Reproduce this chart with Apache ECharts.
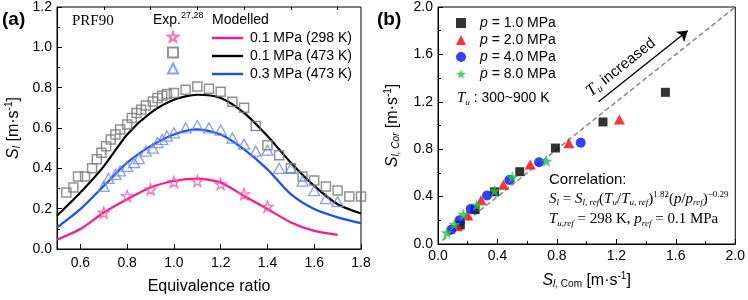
<!DOCTYPE html>
<html><head><meta charset="utf-8">
<script src="https://cdn.jsdelivr.net/npm/echarts@6/dist/echarts.min.js"></script>
<style>html,body{margin:0;padding:0;background:#fff}#c{width:748px;height:300px}</style>
</head><body><div id="c"></div>
<script>
// ---- Panel (a) data ----
const sqPhi = [0.54,0.57,0.59,0.62,0.65,0.67,0.69,0.71,0.73,0.75,0.77,0.80,0.82,0.84,0.86,0.88,0.91,0.93,0.95,0.97,1.00,1.05,1.10,1.15,1.20,1.25,1.30,1.35,1.40,1.45,1.50,1.55,1.60,1.65,1.70,1.75,1.80];
const sqVal = [0.28,0.305,0.36,0.36,0.40,0.445,0.477,0.51,0.543,0.568,0.593,0.617,0.65,0.675,0.69,0.711,0.732,0.749,0.76,0.769,0.774,0.79,0.806,0.795,0.78,0.73,0.70,0.61,0.515,0.465,0.40,0.36,0.34,0.31,0.29,0.26,0.26];
const triPhi = [0.70,0.72,0.75,0.77,0.80,0.83,0.85,0.88,0.91,0.93,0.95,0.97,1.00,1.05,1.10,1.15,1.20,1.25,1.30,1.35,1.40,1.45,1.50,1.55,1.60,1.65,1.70];
const triVal = [0.31,0.35,0.37,0.387,0.41,0.428,0.448,0.485,0.50,0.527,0.543,0.56,0.576,0.60,0.612,0.60,0.59,0.55,0.52,0.485,0.49,0.40,0.40,0.337,0.29,0.25,0.235];
const starPhi = [0.7,0.8,0.9,1.0,1.1,1.2,1.3,1.4];
const starVal = [0.18,0.263,0.296,0.333,0.337,0.322,0.272,0.21];
const modPhi = [0.5,0.6,0.7,0.8,0.9,1.0,1.1,1.2,1.3,1.4,1.5,1.6,1.7,1.8];
const modBlack = [0.165,0.28,0.41,0.568,0.675,0.74,0.765,0.749,0.675,0.56,0.428,0.313,0.222,0.176];
const modBlue = [0.107,0.198,0.313,0.428,0.51,0.568,0.593,0.568,0.494,0.395,0.272,0.198,0.157,0.128];
const modPink = [0.046,0.099,0.181,0.247,0.305,0.337,0.349,0.329,0.263,0.198,0.132,0.09,0.07];
const xTicksA = [0.6,0.8,1.0,1.2,1.4,1.6,1.8];
const xMinorA = [0.5,0.7,0.9,1.1,1.3,1.5,1.7];

// ---- Panel (b) data ----
const p1x = [0.15,0.25,0.38,0.55,0.79,1.11,1.53];
const p1y = [0.16,0.29,0.44,0.61,0.81,1.03,1.28];
const p2x = [0.13,0.20,0.29,0.44,0.62,0.88,1.22];
const p2y = [0.15,0.24,0.37,0.50,0.67,0.85,1.05];
const p4x = [0.09,0.145,0.22,0.33,0.48,0.68,0.96];
const p4y = [0.12,0.20,0.295,0.41,0.54,0.69,0.855];
const p8x = [0.06,0.11,0.17,0.26,0.38,0.50,0.73];
const p8y = [0.095,0.165,0.25,0.33,0.45,0.565,0.70];
const diag = [0.03, 2.0];
const arrowFrom = [1.08, 1.20];
const arrowTo = [1.68, 1.80];

const zip = (a, b) => a.map((v, i) => [v, b[i]]);
const STAR = 'path://M0,-10 L2.35,-3.24 L9.51,-3.09 L3.8,1.24 L5.88,8.09 L0,4 L-5.88,8.09 L-3.8,1.24 L-9.51,-3.09 L-2.35,-3.24 Z';
const SANS = 'Liberation Sans, Arial, sans-serif';
const SERIF = 'Liberation Serif, Times New Roman, serif';

const sub = {fontSize: 10, padding: [8, 0, 0, 0]};
const sup = {fontSize: 10, padding: [0, 0, 9, 0]};

function valAxis(extra) {
  return Object.assign({
    type: 'value',
    axisLine: {show: true, lineStyle: {color: '#000', width: 1}},
    axisTick: {show: true, inside: true, length: 5, lineStyle: {color: '#000'}},
    minorTick: {show: true, splitNumber: 2, length: 3, lineStyle: {color: '#000'}},
    splitLine: {show: false},
    axisLabel: {color: '#000', fontSize: 14, fontFamily: SANS, margin: 5, formatter: v => v.toFixed(1)},
    nameTextStyle: {color: '#000', fontFamily: SANS, fontSize: 16}
  }, extra);
}

const chart = echarts.init(document.getElementById('c'), null, {renderer: 'canvas'});
chart.setOption({
  animation: false,
  backgroundColor: '#fff',
  grid: [
    {left: 57, right: 387, top: 7, bottom: 50, show: true, borderColor: '#000', borderWidth: 1},
    {left: 438, right: 11, top: 7, bottom: 56, show: true, borderColor: '#000', borderWidth: 1}
  ],
  xAxis: [
    valAxis({gridIndex: 0, min: 0.5, max: 1.8, interval: 0.1,
      minorTick: {show: false},
      axisTick: {show: true, inside: true, length: 5, customValues: xTicksA, lineStyle: {color: '#000'}},
      axisLabel: {color: '#000', fontSize: 14, fontFamily: SANS, margin: 7, customValues: xTicksA, formatter: v => v.toFixed(1)},
      name: 'Equivalence ratio', nameLocation: 'middle', nameGap: 30}),
    valAxis({gridIndex: 0, min: 0.5, max: 1.8, interval: 0.1,
      minorTick: {show: false},
      axisLine: {show: false},
      axisTick: {show: true, inside: true, length: 3, customValues: xMinorA, lineStyle: {color: '#000'}},
      axisLabel: {show: false}}),
    valAxis({gridIndex: 1, min: 0, max: 2.0, interval: 0.4,
      name: '{i|S}{sbi|l, }{sb|Com} [m·s{sp|-1}]', nameLocation: 'middle', nameGap: 27,
      nameTextStyle: {color: '#000', fontFamily: SANS, fontSize: 16,
        rich: {i: {fontStyle: 'italic', fontSize: 16}, sbi: Object.assign({fontStyle: 'italic'}, sub), sb: sub, sp: sup}}})
  ],
  yAxis: [
    valAxis({gridIndex: 0, min: 0, max: 1.2, interval: 0.2,
      name: '{i|S}{sbi|l} [m·s{sp|-1}]', nameLocation: 'middle', nameGap: 34,
      nameTextStyle: {color: '#000', fontFamily: SANS, fontSize: 16,
        rich: {i: {fontStyle: 'italic', fontSize: 16}, sbi: Object.assign({fontStyle: 'italic'}, sub), sp: sup}}}),
    valAxis({gridIndex: 1, min: 0, max: 2.0, interval: 0.4,
      name: '{i|S}{sbi|l, Cor} [m·s{sp|-1}]', nameLocation: 'middle', nameGap: 36,
      nameTextStyle: {color: '#000', fontFamily: SANS, fontSize: 16,
        rich: {i: {fontStyle: 'italic', fontSize: 16}, sbi: Object.assign({fontStyle: 'italic'}, sub), sp: sup}}})
  ],
  legend: [
    {left: 167, top: 31, padding: 0, orient: 'vertical', itemWidth: 10, itemHeight: 10, itemGap: 4,
      data: ['e298', 'e473', 'e473b'], formatter: () => '', textStyle: {lineHeight: 12, padding: 0}, selectedMode: false},
    {left: 212, top: 31, padding: 0, orient: 'vertical', itemWidth: 31, itemHeight: 2.4, itemGap: 4, icon: 'rect',
      data: ['0.1 MPa (298 K)', '0.1 MPa (473 K)', '0.3 MPa (473 K)'],
      textStyle: {color: '#000', fontSize: 14, fontFamily: SANS, lineHeight: 12, padding: [0, 0, 0, 2]}, selectedMode: false},
    {left: 456, top: 16, padding: 0, orient: 'vertical', itemWidth: 10, itemHeight: 10, itemGap: 3,
      data: ['p = 1.0 MPa', 'p = 2.0 MPa', 'p = 4.0 MPa', 'p = 8.0 MPa'],
      formatter: n => '{i|p}' + n.slice(1),
      textStyle: {color: '#000', fontSize: 14, fontFamily: SANS, lineHeight: 14, padding: [0, 0, 0, 9],
        rich: {i: {fontStyle: 'italic', fontSize: 14, fontFamily: SANS}}}, selectedMode: false}
  ],
  series: [
    {name: '0.1 MPa (298 K)', type: 'line', xAxisIndex: 0, yAxisIndex: 0, data: zip(modPhi, modPink),
      showSymbol: false, symbol: 'none', smooth: 0.25, lineStyle: {color: '#ff1a85', width: 2.2}, itemStyle: {color: '#ff1a85'}, z: 2},
    {name: '0.1 MPa (473 K)', type: 'line', xAxisIndex: 0, yAxisIndex: 0, data: zip(modPhi, modBlack),
      showSymbol: false, symbol: 'none', smooth: 0.25, lineStyle: {color: '#000', width: 2.2}, itemStyle: {color: '#000'}, z: 2},
    {name: '0.3 MPa (473 K)', type: 'line', xAxisIndex: 0, yAxisIndex: 0, data: zip(modPhi, modBlue),
      showSymbol: false, symbol: 'none', smooth: 0.25, lineStyle: {color: '#1f4ff2', width: 2.2}, itemStyle: {color: '#1f4ff2'}, z: 2},
    {name: 'e298', type: 'scatter', xAxisIndex: 0, yAxisIndex: 0, data: zip(starPhi, starVal),
      symbol: STAR, symbolSize: 11, itemStyle: {color: 'rgba(0,0,0,0)', borderColor: '#ff4da0', borderWidth: 1.3}, z: 3},
    {name: 'e473', type: 'scatter', xAxisIndex: 0, yAxisIndex: 0, data: zip(sqPhi, sqVal),
      symbol: 'rect', symbolSize: 9, itemStyle: {color: 'rgba(0,0,0,0)', borderColor: '#777', borderWidth: 1.5}, z: 3},
    {name: 'e473b', type: 'scatter', xAxisIndex: 0, yAxisIndex: 0, data: zip(triPhi, triVal),
      symbol: 'triangle', symbolSize: [11, 10], itemStyle: {color: 'rgba(0,0,0,0)', borderColor: '#6688f0', borderWidth: 1.3}, z: 3},
    {name: 'diag', type: 'line', xAxisIndex: 2, yAxisIndex: 1, data: zip(diag, diag), showSymbol: false, symbol: 'none',
      lineStyle: {color: '#888', width: 1.5, type: [5, 3]}, silent: true, z: 1,
      markLine: {silent: true, symbol: ['none', 'arrow'], symbolSize: 10,
        lineStyle: {color: '#000', width: 1.4, type: 'solid'},
        label: {show: true, position: 'insideMiddleTop', distance: 4, color: '#000', fontFamily: SANS, fontSize: 15,
          padding: [0, 36, 0, 0],
          formatter: '{t|T}{u|u} increased',
          rich: {t: {fontFamily: SERIF, fontStyle: 'italic', fontSize: 17}, u: {fontFamily: SERIF, fontStyle: 'italic', fontSize: 10, padding: [8, 0, 0, 0]}}},
        data: [[{coord: arrowFrom}, {coord: arrowTo}]]}},
    {name: 'p = 1.0 MPa', type: 'scatter', xAxisIndex: 2, yAxisIndex: 1, data: zip(p1x, p1y),
      symbol: 'rect', symbolSize: 9, itemStyle: {color: '#000'}, z: 3},
    {name: 'p = 2.0 MPa', type: 'scatter', xAxisIndex: 2, yAxisIndex: 1, data: zip(p2x, p2y),
      symbol: 'triangle', symbolSize: [11, 10], itemStyle: {color: '#ff0000'}, z: 3},
    {name: 'p = 4.0 MPa', type: 'scatter', xAxisIndex: 2, yAxisIndex: 1, data: zip(p4x, p4y),
      symbol: 'circle', symbolSize: 10, itemStyle: {color: '#0010ff'}, z: 3},
    {name: 'p = 8.0 MPa', type: 'scatter', xAxisIndex: 2, yAxisIndex: 1, data: zip(p8x, p8y),
      symbol: STAR, symbolSize: 12, itemStyle: {color: '#22c33a'}, z: 4}
  ],
  graphic: [
    {type: 'text', left: 2, top: 10, style: {text: '(a)', font: 'bold 19px ' + SANS, fill: '#000'}},
    {type: 'text', left: 377, top: 10, style: {text: '(b)', font: 'bold 19px ' + SANS, fill: '#000'}},
    {type: 'text', left: 72, top: 14, style: {text: 'PRF90', font: '15px ' + SERIF, fill: '#000'}},
    {type: 'text', left: 153, top: 11, style: {text: 'Exp.{s|27,28}', font: '14px ' + SANS, fill: '#000',
      rich: {s: {fontSize: 9, fontFamily: SANS, padding: [0, 0, 9, 0]}}}},
    {type: 'text', left: 212, top: 13, style: {text: 'Modelled', font: '14px ' + SANS, fill: '#000'}},
    {type: 'text', left: 457, top: 91, style: {text: '{t|T}{u|u} : 300~900 K', font: '14px ' + SANS, fill: '#000',
      rich: {t: {fontFamily: SERIF, fontStyle: 'italic', fontSize: 15}, u: {fontFamily: SERIF, fontStyle: 'italic', fontSize: 9, padding: [8, 0, 0, 0]}}}},
    {type: 'text', left: 549, top: 172, style: {text: 'Correlation:', font: '15px ' + SANS, fill: '#000'}},
    {type: 'text', left: 549, top: 190, style: {
      text: '{i|S}{b|l} = {i|S}{b|l, ref}({i|T}{b|u}/{i|T}{b|u, ref}){p|1.82}({i|p}/{i|p}{b|ref}){p|\u22120.29}',
      font: '15px ' + SERIF, fill: '#000',
      rich: {i: {fontStyle: 'italic', fontFamily: SERIF, fontSize: 15}, b: {fontStyle: 'italic', fontFamily: SERIF, fontSize: 9, padding: [8, 0, 0, 0]},
        p: {fontFamily: SERIF, fontSize: 9, padding: [0, 0, 9, 0]}}}},
    {type: 'text', left: 549, top: 212, style: {
      text: '{i|T}{b|u,ref} = 298 K, {i|p}{b|ref} = 0.1 MPa',
      font: '15px ' + SERIF, fill: '#000',
      rich: {i: {fontStyle: 'italic', fontFamily: SERIF, fontSize: 15}, b: {fontStyle: 'italic', fontFamily: SERIF, fontSize: 9, padding: [8, 0, 0, 0]}}}}
  ]
});
</script>
</body></html>
